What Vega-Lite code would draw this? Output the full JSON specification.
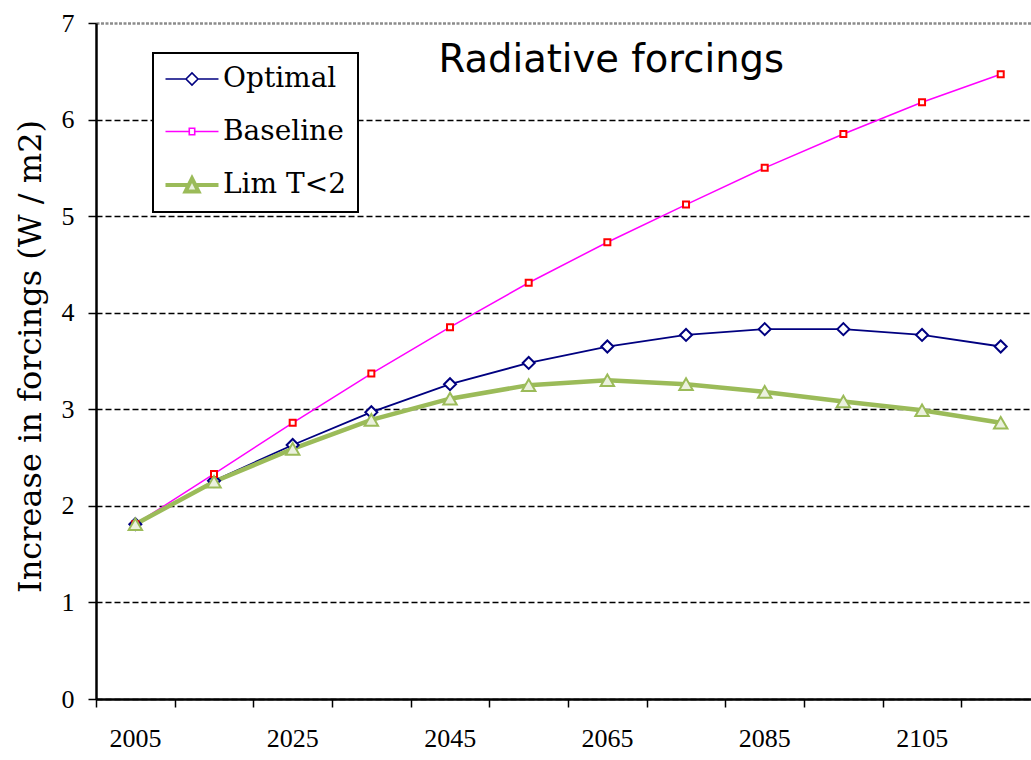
{
  "$schema": "https://vega.github.io/schema/vega-lite/v6.json",
  "width": 935,
  "height": 676,
  "autosize": {"type": "none"},
  "padding": {"left": 96, "top": 23, "right": 0, "bottom": 61},
  "background": "white",
  "config": {"view": {"stroke": null}, "axisY": {"titleFont": "'DejaVu Serif', serif"}},
  "resolve": {"axis": {"x": "independent", "y": "independent"}},
  "data": {
    "values": [
      {"series": "Optimal", "year": 2005, "value": 1.81},
      {"series": "Optimal", "year": 2015, "value": 2.26},
      {"series": "Optimal", "year": 2025, "value": 2.63},
      {"series": "Optimal", "year": 2035, "value": 2.97},
      {"series": "Optimal", "year": 2045, "value": 3.26},
      {"series": "Optimal", "year": 2055, "value": 3.48},
      {"series": "Optimal", "year": 2065, "value": 3.65},
      {"series": "Optimal", "year": 2075, "value": 3.77},
      {"series": "Optimal", "year": 2085, "value": 3.83},
      {"series": "Optimal", "year": 2095, "value": 3.83},
      {"series": "Optimal", "year": 2105, "value": 3.77},
      {"series": "Optimal", "year": 2115, "value": 3.65},
      {"series": "Baseline", "year": 2005, "value": 1.81},
      {"series": "Baseline", "year": 2015, "value": 2.33},
      {"series": "Baseline", "year": 2025, "value": 2.86},
      {"series": "Baseline", "year": 2035, "value": 3.37},
      {"series": "Baseline", "year": 2045, "value": 3.85},
      {"series": "Baseline", "year": 2055, "value": 4.31},
      {"series": "Baseline", "year": 2065, "value": 4.73},
      {"series": "Baseline", "year": 2075, "value": 5.12},
      {"series": "Baseline", "year": 2085, "value": 5.5},
      {"series": "Baseline", "year": 2095, "value": 5.85},
      {"series": "Baseline", "year": 2105, "value": 6.18},
      {"series": "Baseline", "year": 2115, "value": 6.47},
      {"series": "Lim T<2", "year": 2005, "value": 1.81},
      {"series": "Lim T<2", "year": 2015, "value": 2.25},
      {"series": "Lim T<2", "year": 2025, "value": 2.59},
      {"series": "Lim T<2", "year": 2035, "value": 2.89},
      {"series": "Lim T<2", "year": 2045, "value": 3.11},
      {"series": "Lim T<2", "year": 2055, "value": 3.25},
      {"series": "Lim T<2", "year": 2065, "value": 3.3},
      {"series": "Lim T<2", "year": 2075, "value": 3.26},
      {"series": "Lim T<2", "year": 2085, "value": 3.18},
      {"series": "Lim T<2", "year": 2095, "value": 3.08},
      {"series": "Lim T<2", "year": 2105, "value": 2.99},
      {"series": "Lim T<2", "year": 2115, "value": 2.86}
    ]
  },
  "layer": [
    {
      "encoding": {
        "x": {
          "field": "year",
          "type": "quantitative",
          "scale": {"domain": [2000, 2118.85], "nice": false, "zero": false},
          "axis": {
            "title": null,
            "values": [2000, 2010, 2020, 2030, 2040, 2050, 2060, 2070, 2080, 2090, 2100, 2110],
            "labelExpr": "(datum.value - 2000) % 20 == 0 ? '' + (datum.value + 5) : ''",
            "labelOffset": 39,
            "labelFont": "Liberation Serif",
            "labelFontSize": 26,
            "labelColor": "black",
            "labelPadding": 18,
            "labelFlush": false,
            "labelOverlap": false,
            "labelBound": false,
            "tickColor": "black",
            "tickSize": 8,
            "tickWidth": 1.5,
            "domainColor": "black",
            "domainWidth": 2.5,
            "grid": false
          }
        },
        "y": {
          "field": "value",
          "type": "quantitative",
          "scale": {"domain": [0, 7], "nice": false, "zero": true},
          "axis": {
            "title": "Increase in forcings (W / m2)",
            "titleFont": "'DejaVu Serif', serif",
            "titleFontSize": 32,
            "titleFontWeight": "normal",
            "titleColor": "black",
            "titleX": -66,
            "titleY": 333,
            "titleAngle": -90,
            "titleAlign": "center",
            "titleBaseline": "middle",
            "values": [0, 1, 2, 3, 4, 5, 6, 7],
            "format": "d",
            "labelFont": "Liberation Serif",
            "labelFontSize": 26,
            "labelColor": "black",
            "labelPadding": 14,
            "tickColor": "black",
            "tickSize": 8,
            "tickWidth": 1.5,
            "domainColor": "black",
            "domainWidth": 2.5,
            "grid": true,
            "gridColor": {"condition": {"test": "datum.value == 7", "value": "#8c8c8c"}, "value": "black"},
            "gridDash": {"condition": {"test": "datum.value == 7", "value": [3, 1.5]}, "value": [6, 3]},
            "gridWidth": {"condition": {"test": "datum.value == 7", "value": 2.5}, "value": 1.5}
          }
        }
      },
      "layer": [
        {
          "transform": [{"filter": "datum.series == 'Optimal'"}],
          "mark": {"type": "line", "strokeWidth": 1.8},
          "encoding": {
            "color": {
              "field": "series",
              "type": "nominal",
              "scale": {"domain": ["Optimal", "Baseline", "Lim T<2"], "range": ["#000080", "#FF00FF", "#9BBB59"]},
              "legend": {
                "title": null,
                "orient": "none",
                "legendX": 57,
                "legendY": 30,
                "labelFont": "DejaVu Serif",
                "labelFontSize": 28,
                "labelColor": "black",
                "labelLimit": 300,
                "symbolSize": 1024,
                "symbolType": "stroke",
                "padding": 12,
                "rowPadding": 24.5,
                "labelOffset": 30,
                "strokeColor": "black",
                "fillColor": "white",
                "encode": {
                  "legend": {"update": {"strokeWidth": {"value": 2}}},
                  "symbols": {
                    "update": {
                      "shape": {"signal": "datum.value === 'Optimal' ? 'M-0.844,0H0.437M1.187,0H2.468M0.437,0L0.812,-0.375L1.187,0L0.812,0.375Z' : datum.value === 'Baseline' ? 'M-0.844,0H0.642M0.982,0H2.468M0.642,-0.2H0.982V0.2H0.642Z' : 'M-0.844,0H0.609M1.015,0H2.468M0.812,-0.406L1.218,0.406H0.406Z'"},
                      "strokeWidth": {"signal": "datum.value === 'Lim T<2' ? 4 : 1.6"},
                      "fill": {"signal": "datum.value === 'Lim T<2' ? '#EBF1DE' : 'white'"}
                    }
                  }
                }
              }
            }
          }
        },
        {
          "transform": [{"filter": "datum.series == 'Baseline'"}],
          "mark": {"type": "line", "strokeWidth": 1.5, "color": "#FF00FF"},
          "encoding": {}
        },
        {
          "transform": [{"filter": "datum.series == 'Lim T<2'"}],
          "mark": {"type": "line", "strokeWidth": 4.5, "color": "#9BBB59"},
          "encoding": {}
        },
        {
          "transform": [{"filter": "datum.series == 'Optimal'"}],
          "mark": {"type": "point", "shape": "diamond", "size": 144, "filled": false, "fill": "white", "stroke": "#000080", "strokeWidth": 2, "opacity": 1, "fillOpacity": 1}
        },
        {
          "transform": [{"filter": "datum.series == 'Baseline'"}],
          "mark": {"type": "point", "shape": "square", "size": 36, "filled": false, "fill": "white", "stroke": "#FF0000", "strokeWidth": 2, "opacity": 1, "fillOpacity": 1}
        },
        {
          "transform": [{"filter": "datum.series == 'Lim T<2'"}],
          "mark": {"type": "point", "shape": "triangle-up", "size": 180, "filled": false, "fill": "#EBF1DE", "stroke": "#9BBB59", "strokeWidth": 2, "opacity": 1, "fillOpacity": 1}
        }
      ]
    },
    {
      "data": {"values": [{"label": "Radiative forcings"}]},
      "mark": {"type": "text", "font": "DejaVu Sans", "fontSize": 38.5, "color": "black", "align": "center", "baseline": "alphabetic"},
      "encoding": {
        "x": {"datum": 2065.5, "type": "quantitative", "axis": null},
        "y": {"datum": 6.49, "type": "quantitative", "axis": null},
        "text": {"field": "label", "type": "nominal"}
      }
    }
  ]
}
